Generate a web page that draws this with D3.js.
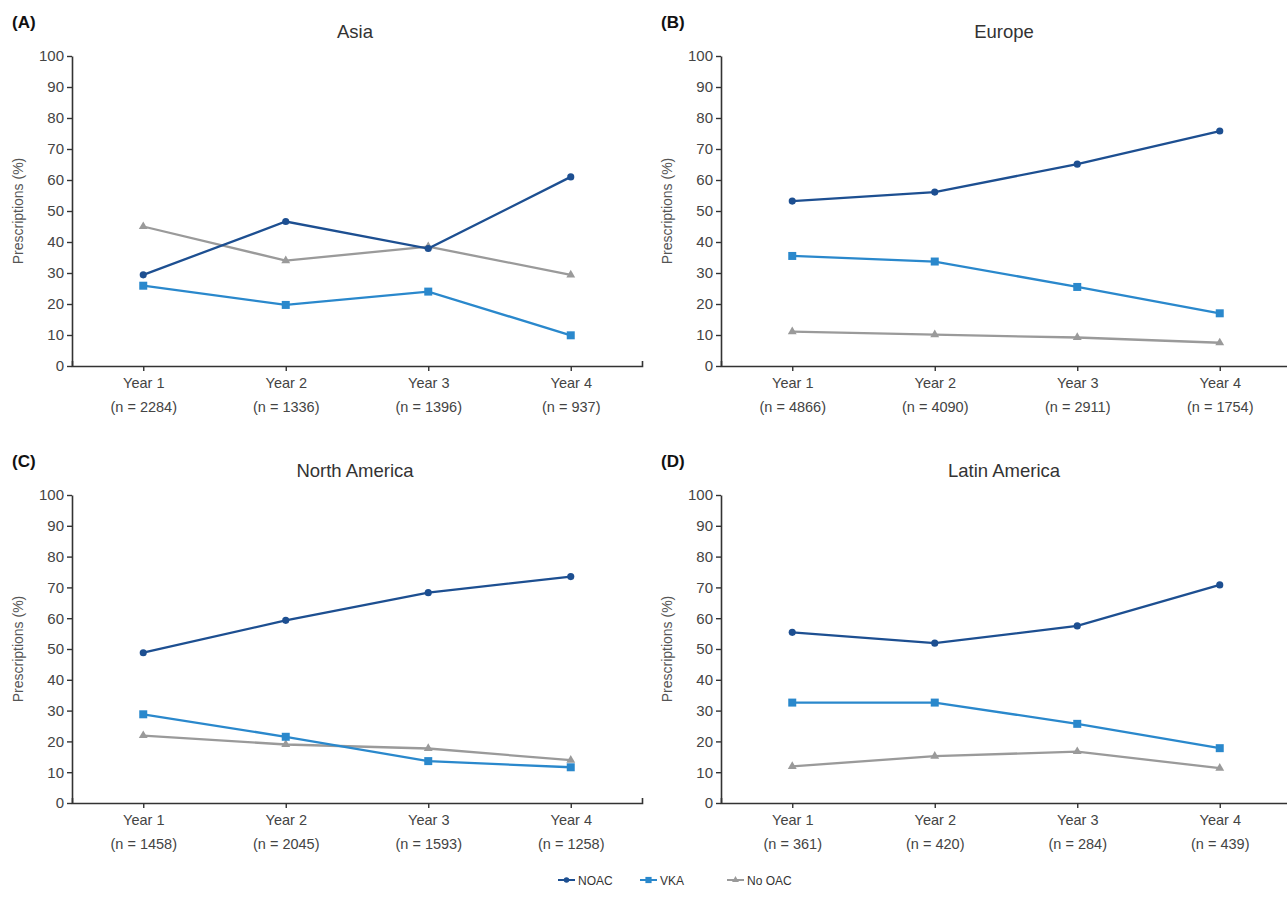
<!DOCTYPE html>
<html>
<head>
<meta charset="utf-8">
<script src="https://cdn.jsdelivr.net/npm/d3@7"></script>
<style>
    body { margin: 0; background: #fff; }
    svg { display: block; font-family: "Liberation Sans", Arial, sans-serif; }
</style>
</head>
<body>
<svg id="svg" width="1287" height="913"></svg>
<script>
// ---- data ----
const years = ["Year 1", "Year 2", "Year 3", "Year 4"];
const regions = ["Asia", "Europe", "North America", "Latin America"];
const panelLetters = ["(A)", "(B)", "(C)", "(D)"];
const sampleSizes = [
    ["2284", "1336", "1396", "937"],
    ["4866", "4090", "2911", "1754"],
    ["1458", "2045", "1593", "1258"],
    ["361", "420", "284", "439"]
];
const seriesNames = ["NOAC", "VKA", "No OAC"];
const noac = [
    [29.4, 46.6, 37.9, 61.0],
    [53.2, 56.1, 65.1, 75.8],
    [48.8, 59.3, 68.3, 73.5],
    [55.4, 51.9, 57.5, 70.8]
];
const vka = [
    [25.9, 19.7, 24.0, 9.9],
    [35.5, 33.7, 25.5, 17.0],
    [28.8, 21.5, 13.6, 11.6],
    [32.6, 32.6, 25.7, 17.8]
];
const noOac = [
    [45.0, 34.0, 38.5, 29.4],
    [11.1, 10.1, 9.2, 7.5],
    [21.9, 19.0, 17.7, 13.9],
    [11.9, 15.2, 16.7, 11.3]
];
const yTicks = [0, 10, 20, 30, 40, 50, 60, 70, 80, 90, 100];

const colors = ["#1d4f91", "#2a88cc", "#9a9a9a"];
const symbols = [d3.symbolCircle, d3.symbolSquare, d3.symbolTriangle];
const symSizes = [40, 64, 34];

const svg = d3.select("#svg");

// panel boxes: left edge of axis, top (100%), bottom (0%)
const cols = [72, 721];
const rows = [{top: 56, bottom: 366}, {top: 495, bottom: 803}];
const plotW = 570;

regions.forEach(function (name, i) {
    const col = cols[i % 2];
    const row = rows[Math.floor(i / 2)];
    const g = svg.append("g");

    const x = d3.scalePoint().domain(years).range([col, col + plotW]).padding(0.5);
    const y = d3.scaleLinear().domain([0, 100]).range([row.bottom, row.top]);

    // y axis
    const yAxis = g.append("g")
        .attr("transform", "translate(" + col + ",0)")
        .call(d3.axisLeft(y).tickValues(yTicks).tickSize(5).tickSizeOuter(0));
    yAxis.select(".domain").attr("stroke", "#333").attr("stroke-width", 1.6);
    yAxis.selectAll(".tick line").attr("stroke", "#333").attr("stroke-width", 1.4);
    yAxis.selectAll(".tick text")
        .attr("x", -8)
        .attr("fill", "#444")
        .style("font-size", "15px");

    // x axis
    const xAxis = g.append("g")
        .attr("transform", "translate(0," + row.bottom + ")")
        .call(d3.axisBottom(x).tickSize(5).tickSizeOuter(-5).tickFormat(""));
    xAxis.select(".domain").attr("stroke", "#333").attr("stroke-width", 1.6);
    xAxis.selectAll(".tick line").attr("stroke", "#333").attr("stroke-width", 1.4);
    xAxis.selectAll(".tick").each(function (d, j) {
        const t = d3.select(this).append("text")
            .attr("fill", "#444")
            .attr("text-anchor", "middle")
            .style("font-size", "14.5px");
        t.append("tspan").attr("x", 0).attr("y", 22).text(d);
        t.append("tspan").attr("x", 0).attr("y", 46).text("(n = " + sampleSizes[i][j] + ")");
    });

    // y label
    g.append("text")
        .attr("transform", "translate(" + (col - 49) + "," + ((row.top + row.bottom) / 2) + ") rotate(-90)")
        .attr("text-anchor", "middle")
        .attr("fill", "#555")
        .style("font-size", "14px")
        .text("Prescriptions (%)");

    // title + panel letter
    g.append("text")
        .attr("x", col + 283)
        .attr("y", row.top - 18)
        .attr("text-anchor", "middle")
        .attr("fill", "#333")
        .style("font-size", "18.5px")
        .text(name);
    g.append("text")
        .attr("x", col - 60)
        .attr("y", row.top - 28)
        .attr("fill", "#111")
        .style("font-size", "17px")
        .style("font-weight", "bold")
        .text(panelLetters[i]);

    // series: draw No OAC first so blue lines sit on top
    const allSeries = [noac[i], vka[i], noOac[i]];
    const line = d3.line()
        .x(function (d, j) { return x(years[j]); })
        .y(function (d) { return y(d); });
    [2, 1, 0].forEach(function (s) {
        g.append("path")
            .datum(allSeries[s])
            .attr("fill", "none")
            .attr("stroke", colors[s])
            .attr("stroke-width", 2.3)
            .attr("d", line);
        g.selectAll(null)
            .data(allSeries[s])
            .enter().append("path")
            .attr("d", d3.symbol().type(symbols[s]).size(symSizes[s]))
            .attr("transform", function (d, j) { return "translate(" + x(years[j]) + "," + y(d) + ")"; })
            .attr("fill", colors[s]);
    });
});

// legend
const legendX = [558, 640, 727];
const legend = svg.append("g").attr("transform", "translate(0,880)");
seriesNames.forEach(function (n, s) {
    const lg = legend.append("g").attr("transform", "translate(" + legendX[s] + ",0)");
    lg.append("line").attr("x1", 0).attr("x2", 17).attr("stroke", colors[s]).attr("stroke-width", 2);
    lg.append("path")
        .attr("d", d3.symbol().type(symbols[s]).size(symSizes[s] * 0.6))
        .attr("transform", "translate(8.5,0)")
        .attr("fill", colors[s]);
    lg.append("text")
        .attr("x", 20).attr("y", 4.5)
        .attr("fill", "#333")
        .style("font-size", "12px")
        .text(n);
});
</script>
</body>
</html>
